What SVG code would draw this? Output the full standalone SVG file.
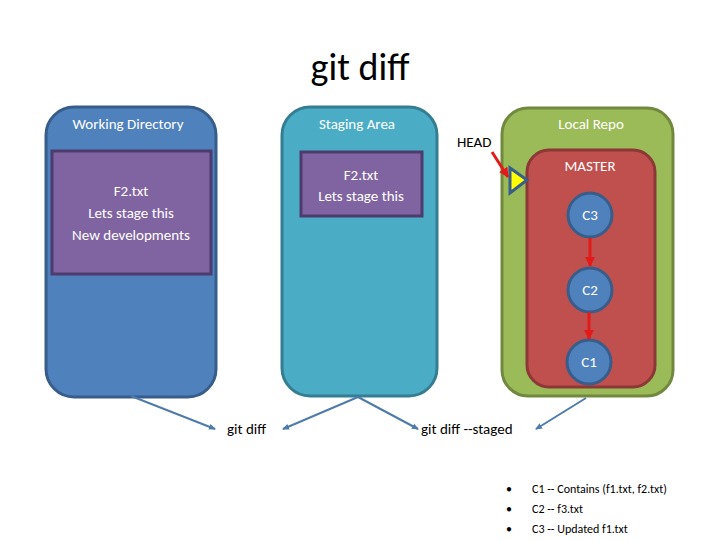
<svg xmlns="http://www.w3.org/2000/svg" width="720" height="540" viewBox="0 0 720 540">
<style>
text{font-family:Calibri,Carlito,"Liberation Sans",sans-serif;}
.w{fill:#fff;font-size:15px;text-anchor:middle}
.k{fill:#000;font-size:15px}
.c{stroke:#4f7bab;stroke-width:2;fill:none;marker-end:url(#a)}
.r{stroke:#e31a1a;stroke-width:3;marker-end:url(#ra)}
</style>
<defs>
<marker id="a" markerWidth="8" markerHeight="8" refX="6" refY="4" orient="auto" markerUnits="userSpaceOnUse"><path d="M0,1 L7,4 L0,7 z" fill="#4f7bab"/></marker>
<marker id="ra" markerWidth="12" markerHeight="12" refX="9" refY="6" orient="auto" markerUnits="userSpaceOnUse"><path d="M0,1 L10,6 L0,11 z" fill="#e31a1a"/></marker>
</defs>
<rect width="720" height="540" fill="#fff"/>
<text x="360" y="80" font-size="38" text-anchor="middle" fill="#000" style="font-family:Calibri,Carlito,'Liberation Sans',sans-serif">git diff</text>
<g id="wd">
<rect x="46" y="107" width="170" height="290" rx="28" fill="#4f81bd" stroke="#385d8a" stroke-width="3"/>
<text class="w" x="128" y="129">Working Directory</text>
<rect x="52" y="151" width="159" height="123" fill="#8064a2" stroke="#4e3b6e" stroke-width="3"/>
<text class="w" x="131" y="196">F2.txt</text>
<text class="w" x="131" y="218">Lets stage this</text>
<text class="w" x="131" y="240">New developments</text>
</g>
<g id="sa">
<rect x="282" y="107" width="155" height="289" rx="28" fill="#4bacc6" stroke="#357d91" stroke-width="3"/>
<text class="w" x="357" y="129">Staging Area</text>
<rect x="301" y="152" width="121" height="64" fill="#8064a2" stroke="#4e3b6e" stroke-width="3"/>
<text class="w" x="361" y="180">F2.txt</text>
<text class="w" x="361" y="201">Lets stage this</text>
</g>
<g id="lr">
<rect x="502" y="108" width="171" height="288" rx="26" fill="#9bbb59" stroke="#71893f" stroke-width="3"/>
<text class="w" x="591" y="129">Local Repo</text>
<rect x="527" y="150" width="128" height="237" rx="22" fill="#c0504d" stroke="#8c3836" stroke-width="3"/>
<text class="w" x="590" y="171">MASTER</text>
<polygon points="510,168 510,193 527,180" fill="#ffff00" stroke="#385d8a" stroke-width="3"/>
</g>
<g id="c3"><circle cx="590" cy="215" r="22" fill="#4f81bd" stroke="#385d8a" stroke-width="3"/><text class="w" x="590" y="220" font-size="13">C3</text></g>
<g id="c2"><circle cx="590" cy="290" r="22" fill="#4f81bd" stroke="#385d8a" stroke-width="3"/><text class="w" x="590" y="295" font-size="13">C2</text></g>
<g id="c1"><circle cx="589" cy="362" r="22" fill="#4f81bd" stroke="#385d8a" stroke-width="3"/><text class="w" x="589" y="367" font-size="13">C1</text></g>
<text class="k" x="457" y="147">HEAD</text>
<text class="k" x="227" y="434">git diff</text>
<text class="k" x="421" y="434">git diff --staged</text>
<g id="connectors">
<line class="r" x1="492" y1="152" x2="508" y2="177"/>
<line class="r" x1="590" y1="238" x2="590" y2="266"/>
<line class="r" x1="589" y1="312" x2="589" y2="339"/>
<line class="c" x1="131" y1="396" x2="215" y2="429"/>
<line class="c" x1="358" y1="397" x2="283" y2="429"/>
<line class="c" x1="358" y1="397" x2="418" y2="429"/>
<line class="c" x1="586" y1="398" x2="536" y2="429"/>
</g>
<g font-size="12" fill="#000">
<text x="506" y="493">•</text><text x="506" y="513">•</text><text x="506" y="533">•</text>
<text x="532" y="493" style="font-size:12px">C1 -- Contains (f1.txt, f2.txt)</text>
<text x="532" y="513" style="font-size:12px">C2 -- f3.txt</text>
<text x="532" y="533" style="font-size:12px">C3 -- Updated f1.txt</text>
</g>
</svg>
